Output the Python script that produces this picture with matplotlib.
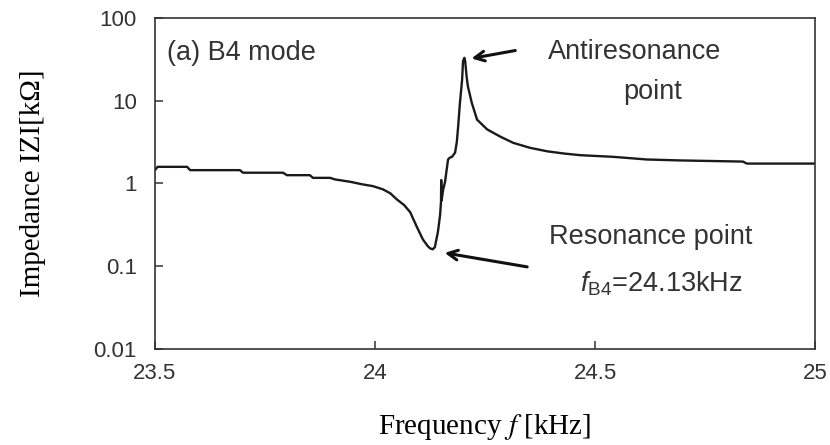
import numpy as np
import matplotlib.pyplot as plt
from matplotlib.ticker import FixedLocator, NullLocator

plt.rcParams['font.family'] = ['Liberation Sans', 'DejaVu Sans']
plt.rcParams['mathtext.fontset'] = 'custom'
plt.rcParams['mathtext.rm'] = 'Liberation Sans'
plt.rcParams['mathtext.it'] = 'Liberation Sans:italic'

freq = [23.500, 23.506, 23.573, 23.580, 23.693, 23.700, 23.791, 23.800, 23.852,
        23.859, 23.898, 23.909, 23.943, 23.970, 23.995, 24.018, 24.035, 24.050,
        24.066, 24.080, 24.095, 24.109, 24.120, 24.125, 24.131, 24.136, 24.143,
        24.148, 24.150, 24.1505, 24.151, 24.152, 24.155, 24.159, 24.166, 24.170,
        24.175, 24.182, 24.186, 24.189, 24.193, 24.198, 24.200, 24.203, 24.205,
        24.208, 24.211, 24.220, 24.232, 24.255, 24.284, 24.314, 24.352, 24.391,
        24.430, 24.466, 24.541, 24.618, 24.693, 24.836, 24.845, 25.000]
imp_kohm = [1.45, 1.59, 1.59, 1.45, 1.45, 1.35, 1.35, 1.26, 1.26,
            1.17, 1.17, 1.12, 1.05, 0.98, 0.93, 0.85, 0.76, 0.64,
            0.55, 0.45, 0.30, 0.21, 0.175, 0.165, 0.16, 0.17, 0.26,
            0.42, 0.60, 1.10, 0.62, 0.66, 0.85, 1.03, 1.95, 2.05,
            2.10, 2.36, 3.2, 4.9, 9.4, 18.0, 30.0, 33.0, 30.0,
            20.0, 15.0, 9.4, 5.9, 4.5, 3.7, 3.1, 2.7, 2.45,
            2.3, 2.2, 2.1, 1.95, 1.90, 1.84, 1.74, 1.74]

x_ticks = [23.5, 24.0, 24.5, 25.0]
x_labels = ['23.5', '24', '24.5', '25']
y_ticks = [0.01, 0.1, 1, 10, 100]
y_labels = ['0.01', '0.1', '1', '10', '100']

fig = plt.figure(figsize=(8.3, 4.45), dpi=100)
ax = fig.add_axes([0.1867, 0.2157, 0.7953, 0.7439])

ax.plot(freq, imp_kohm, color='#1a1a1a', lw=1.7, solid_joinstyle='round')

ax.set_yscale('log')
ax.set_xlim(23.5, 25)
ax.set_ylim(0.01, 100)
ax.xaxis.set_major_locator(FixedLocator(x_ticks))
ax.set_xticklabels(x_labels)
ax.yaxis.set_major_locator(FixedLocator(y_ticks))
ax.yaxis.set_minor_locator(NullLocator())
ax.set_yticklabels(y_labels)
ax.tick_params(direction='in', length=6, width=1.1, color='#333333',
               labelsize=16, labelcolor='#333333')
ax.tick_params(axis='y', pad=13)
ax.tick_params(axis='x', pad=10)
for s in ax.spines.values():
    s.set_color('#333333')
    s.set_linewidth(1.2)

ax.set_xlabel('Frequency $f$ [kHz]', fontsize=21, family='Liberation Serif',
              math_fontfamily='stix', labelpad=20)
ax.set_ylabel('Impedance IZI[k\u03a9]', fontsize=21, family='Liberation Serif',
              labelpad=34)

txt = dict(fontsize=19.5, color='#333333')
ax.text(0.018, 0.894, '(a) B4 mode', transform=ax.transAxes, ha='left', va='center', **txt)
ax.text(24.59, 39, 'Antiresonance', ha='center', va='center', **txt)
ax.text(24.63, 12.8, 'point', ha='center', va='center', **txt)
ax.text(24.627, 0.224, 'Resonance point', ha='center', va='center', **txt)
ax.text(24.65, 0.061, '$\\mathit{f}_{\\mathrm{B4}}$=24.13kHz', ha='center', va='center', **txt)

arrow = dict(arrowstyle='->,head_length=0.7,head_width=0.35', color='#111111', lw=2.2)
ax.annotate('', xy=(24.213, 32), xytext=(24.325, 41), arrowprops=arrow)
ax.annotate('', xy=(24.152, 0.147), xytext=(24.352, 0.097), arrowprops=arrow)

fig.savefig('out.png', dpi=100)
